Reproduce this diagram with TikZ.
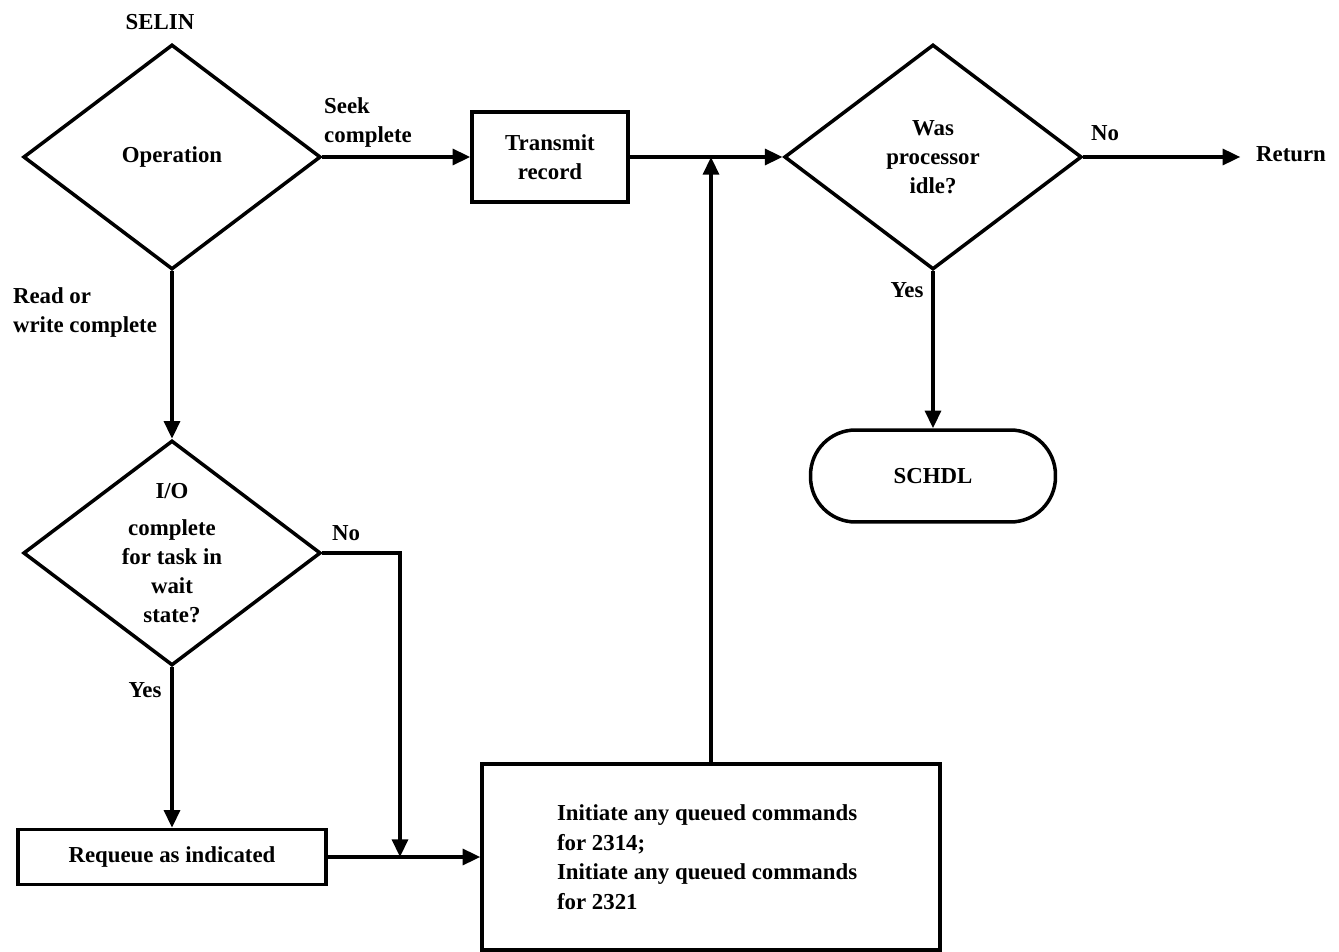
\documentclass[tikz,border=0pt]{standalone}
\usepackage{fontspec}
\setmainfont{Liberation Serif}
\usetikzlibrary{shapes.geometric,arrows.meta,positioning}

\tikzset{
  decision/.style={diamond,draw,line width=2pt,inner sep=0pt,aspect=1.3,
    minimum width=5.95cm,minimum height=4.5cm,align=center},
  process/.style={rectangle,draw,line width=2pt,align=center},
  terminal/.style={rectangle,draw,line width=2pt,rounded corners=0.9cm,
    minimum width=4.9cm,minimum height=1.84cm},
  lbl/.style={inner sep=0pt,align=left}
}

\begin{document}
\begin{tikzpicture}[x=0.02cm,y=-0.02cm,line width=2pt,>={Triangle[length=10pt,width=9pt]},
  every node/.style={font=\fontsize{13}{16.5}\selectfont\bfseries}]
\useasboundingbox (0,0) rectangle (1339,952);

\node[decision] (op) at (172,157) {Operation};
\node[process,minimum width=3.12cm,minimum height=1.8cm] (tx) at (550,157) {Transmit\\record};
\node[decision] (proc) at (933,157) {Was\\processor\\idle?};
\node[terminal] (sch) at (933,476) {SCHDL};
\node[decision] (io) at (172,553) {I/O\\[5pt]complete\\for task in\\wait\\state?};
\node[process,minimum width=6.16cm,minimum height=1.1cm] (rq) at (172,857) {Requeue as indicated};
\node[process,minimum width=9.16cm,minimum height=3.72cm,inner xsep=1.5cm,
  text width=6.16cm,align=flush left,font=\fontsize{13}{16.8}\selectfont\bfseries] (init) at (711,857)
  {Initiate any queued commands\\for 2314;\\Initiate any queued commands\\for 2321};

\node[lbl] (selin) at (160,22) {SELIN};
\node[lbl] (seek) at (368,123) {Seek\\complete};
\node[lbl] (rw) at (85,313) {Read or\\write complete};
\node[lbl] (pno) at (1105,133) {No};
\node[lbl] (pyes) at (907,290) {Yes};
\node[lbl] (ret) at (1291,154) {Return};
\node[lbl] (ino) at (346,533) {No};
\node[lbl] (iyes) at (145,690) {Yes};

\coordinate (join) at (400,857);
\coordinate (merge) at (711,157);

\draw[->] (op.east) -- (tx.west);
\draw[->] (tx.east) -- (proc.west);
\draw[->] (proc.east) -- ([xshift=-8pt]ret.west |- proc.east);
\draw[->] (proc.south) -- (sch.north);
\draw[->] (op.south) -- (io.north);
\draw[->] (io.south) -- (rq.north);
\draw[->] (io.east) -| (join);
\draw[->] (rq.east) -- (init.west);
\draw[->] (init.north) -- (merge);
\end{tikzpicture}
\end{document}
